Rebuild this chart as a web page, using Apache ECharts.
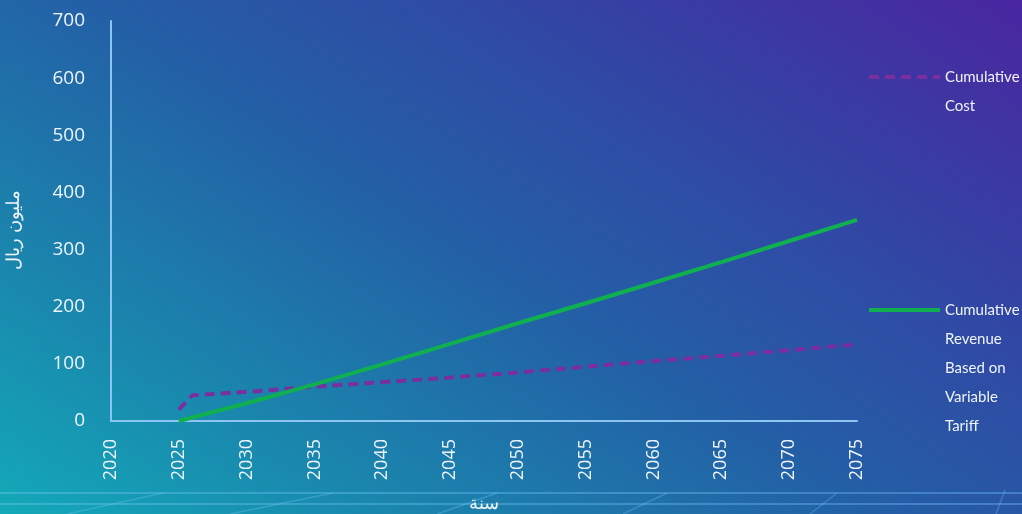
<!DOCTYPE html>
<html><head><meta charset="utf-8">
<script src="https://cdn.jsdelivr.net/npm/echarts@6/dist/echarts.min.js"></script>
<style>
html,body{margin:0;padding:0;width:1022px;height:514px;overflow:hidden;}
body{background:linear-gradient(33deg,#13a9b8 0%,#1a86ad 22%,#2360a6 48%,#3344a4 74%,#4a26a0 100%);}
#c{width:1022px;height:514px;}
</style></head>
<body><div id="c"></div>
<script>
const yearTicks = [2020,2025,2030,2035,2040,2045,2050,2055,2060,2065,2070,2075];
const costYears = [2025,2026,2030,2035,2040,2045,2050,2055,2060,2065,2070,2075];
const costValues = [20,45,51,60,68,76,85,95,105,114,124,134];
const revYears = [2025,2030,2035,2040,2045,2050,2055,2060,2065,2070,2075];
const revValues = [0,31,64,99,135,171,206,242,278,315,352];
const costName = 'Cumulative\nCost';
const revName = 'Cumulative\nRevenue\nBased on\nVariable\nTariff';

const chart = echarts.init(document.getElementById('c'));
const axisCol = '#8cc4f2';
const txt = '#eef4fa';
const LH = 29;
function legendFor(name, iconY) {
  const lines = name.split('\n').length;
  const total = 2 * lines - 1;
  return {data:[name], left: 867, top: iconY - total * LH / 2, orient:'vertical', padding: 0,
    itemWidth: 71, itemHeight: 14, itemStyle: {opacity: 0}, lineStyle: {width: 4},
    formatter: n => '\n'.repeat(lines - 1) + n,
    textStyle:{color: txt, fontFamily:'Lato', fontSize: 15, lineHeight: LH}};
}
chart.setOption({
  backgroundColor: 'transparent',
  animation: false,
  grid: {left: 111, right: 165, top: 21, bottom: 93, outerBoundsMode: 'none', containLabel: false},
  legend: [legendFor(costName, 77), legendFor(revName, 310)],
  xAxis: {
    type: 'value', min: 2020, max: 2075, interval: 5,
    name: 'سنة', nameLocation: 'middle', nameGap: 74,
    nameTextStyle: {color: txt, fontSize: 18, fontFamily:'Noto Sans'},
    axisLine: {show: true, lineStyle: {color: axisCol, width: 2}},
    axisTick: {show: false}, splitLine: {show: false},
    axisLabel: {rotate: 90, color: txt, fontSize: 18, fontFamily:'Open Sans', margin: 18,
      formatter: v => String(v)}
  },
  yAxis: {
    type: 'value', min: 0, max: 700, interval: 100,
    name: 'مليون ريال', nameLocation: 'middle', nameGap: 88, nameRotate: 90,
    nameTextStyle: {color: txt, fontSize: 18, fontFamily:'Noto Sans', padding: [0, 18, 0, 0]},
    axisLine: {show: true, lineStyle: {color: axisCol, width: 2}},
    axisTick: {show: false}, splitLine: {show: false},
    axisLabel: {color: txt, fontSize: 19, fontFamily:'Open Sans', margin: 26}
  },
  series: [
    {name: costName, type: 'line', showSymbol: false, symbol:'none',
     data: costYears.map((y,i)=>[y,costValues[i]]),
     lineStyle: {color: '#7a2fa0', width: 4, type: [10,6]}, itemStyle:{color:'#7a2fa0'}},
    {name: revName, type: 'line', showSymbol: false, symbol:'none',
     data: revYears.map((y,i)=>[y,revValues[i]]),
     lineStyle: {color: '#10b050', width: 4}, itemStyle:{color:'#10b050'}}
  ],
  graphic: [
    {type:'line', silent:true, shape:{x1:0,y1:493,x2:1022,y2:493}, style:{stroke:'rgba(120,200,255,0.35)', lineWidth:2}},
    {type:'line', silent:true, shape:{x1:0,y1:504,x2:1022,y2:504}, style:{stroke:'rgba(120,200,255,0.35)', lineWidth:2}},
    {type:'line', silent:true, shape:{x1:67,y1:514,x2:163,y2:493}, style:{stroke:'rgba(120,200,255,0.3)', lineWidth:1.5}},
    {type:'line', silent:true, shape:{x1:230,y1:514,x2:333,y2:493}, style:{stroke:'rgba(120,200,255,0.3)', lineWidth:1.5}},
    {type:'line', silent:true, shape:{x1:437,y1:514,x2:497,y2:493}, style:{stroke:'rgba(120,200,255,0.3)', lineWidth:1.5}},
    {type:'line', silent:true, shape:{x1:623,y1:514,x2:667,y2:493}, style:{stroke:'rgba(120,200,255,0.3)', lineWidth:1.5}},
    {type:'line', silent:true, shape:{x1:810,y1:514,x2:837,y2:493}, style:{stroke:'rgba(120,200,255,0.3)', lineWidth:1.5}},
    {type:'line', silent:true, shape:{x1:996,y1:514,x2:1005,y2:490}, style:{stroke:'rgba(120,200,255,0.3)', lineWidth:1.5}}
  ]
});
</script></body></html>
